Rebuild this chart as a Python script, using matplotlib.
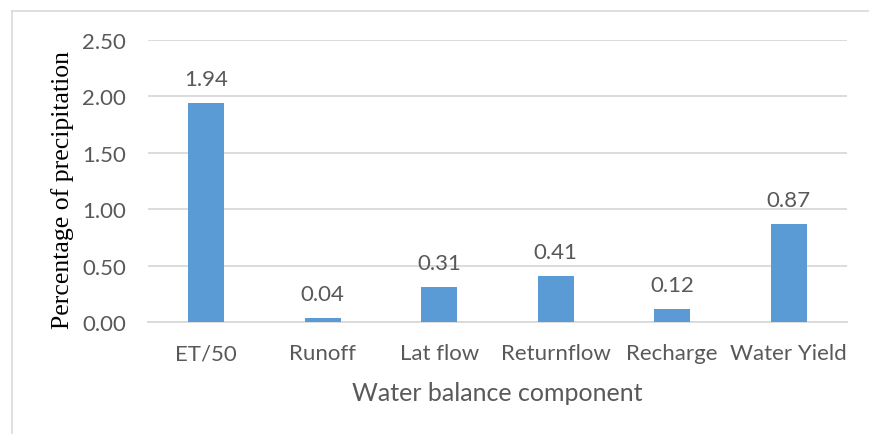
import matplotlib
matplotlib.use("Agg")
import matplotlib.pyplot as plt
from matplotlib.lines import Line2D

categories = ["ET/50", "Runoff", "Lat flow", "Returnflow", "Recharge", "Water Yield"]
values = [1.94, 0.04, 0.31, 0.41, 0.12, 0.87]
yticks = [0.0, 0.5, 1.0, 1.5, 2.0, 2.5]

bar_color = "#5B9BD5"
text_color = "#595959"
grid_color = "#D9D9D9"
sans = ["Lato", "DejaVu Sans"]

fig = plt.figure(figsize=(8.69, 4.35), dpi=100)
ax = fig.add_axes([148 / 869, 1 - 323.3 / 435, (847 - 148) / 869, (323.3 - 40.7) / 435])

x = list(range(len(categories)))
ax.bar(x, values, width=0.31, color=bar_color, zorder=3)
for xi, v in zip(x, values):
    ax.annotate(f"{v:.2f}", (xi, v), xytext=(0, 10), textcoords="offset points",
                ha="center", va="bottom", fontsize=16, color=text_color, family=sans)

ax.set_xlim(-0.5, len(categories) - 0.5)
ax.set_ylim(0, 2.5)
ax.set_yticks(yticks)
ax.set_yticklabels([f"{t:.2f}" for t in yticks], fontsize=16, color=text_color, family=sans)
ax.set_xticks(x)
ax.set_xticklabels(categories, fontsize=16, color=text_color, family=sans)
ax.tick_params(axis="both", length=0)
ax.tick_params(axis="y", pad=16)
ax.tick_params(axis="x", pad=15)
ax.yaxis.grid(True, color=grid_color, linewidth=1.3, zorder=0)
for s in ["top", "right", "left"]:
    ax.spines[s].set_visible(False)
ax.spines["bottom"].set_color(grid_color)
ax.spines["bottom"].set_linewidth(1.3)

ax.set_xlabel("Water balance component", fontsize=18, color=text_color, family=sans, va="center")
ax.xaxis.set_label_coords(0.5, -0.25)
ax.set_ylabel("Percentage of precipitation", fontsize=18.5, color="black",
              family=["Liberation Serif", "DejaVu Serif"], va="center")
ax.yaxis.set_label_coords(-0.123, 0.472)

# Chart frame (left and top edges)
fig.add_artist(Line2D([11.5 / 869, 11.5 / 869], [0, 1 - 11.5 / 435], color=grid_color, linewidth=1.2))
fig.add_artist(Line2D([11.5 / 869, 1], [1 - 11.5 / 435, 1 - 11.5 / 435], color=grid_color, linewidth=1.2))

fig.savefig("out.png", dpi=100, facecolor="white")
